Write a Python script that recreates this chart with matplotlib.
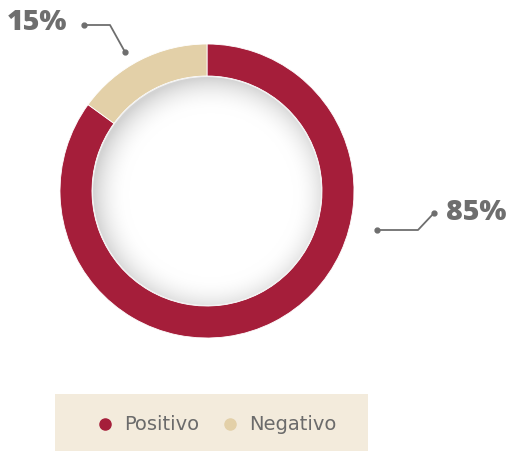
import numpy as np
import matplotlib.pyplot as plt
from matplotlib.patches import Circle, Rectangle

# datos
categorias = ['Positivo', 'Negativo']
valores = [85, 15]
colores = ['#A51E3A', '#E3D0A8']
etiquetas = ['85%', '15%']

W, H = 512, 451
fig = plt.figure(figsize=(W / 100, H / 100), dpi=100)
ax = fig.add_axes([0, 0, 1, 1])

cx, cy, R, ancho = 207, H - 191, 147, 32

wedges, _ = ax.pie(valores, colors=colores, startangle=90, counterclock=False,
                   radius=R, center=(cx, cy), frame=True,
                   wedgeprops=dict(width=ancho, linewidth=0.6, edgecolor='white'))
ax.set_xlim(0, W)
ax.set_ylim(0, H)
ax.set_aspect('equal')
ax.axis('off')

# circulo interior con sombra suave
r_in = R - ancho
n = 400
xs = np.linspace(cx - r_in, cx + r_in, n)
ys = np.linspace(cy - r_in, cy + r_in, n)
X, Y = np.meshgrid(xs, ys)
d = np.sqrt((X - cx - 4) ** 2 + (Y - cy + 4) ** 2) / r_in
t = np.clip((d - 0.72) / 0.3, 0, 1)
val = 1 - 0.17 * t ** 2
img = np.dstack([val, val, val])
im = ax.imshow(img, extent=(cx - r_in, cx + r_in, cy - r_in, cy + r_in),
               origin='lower', zorder=3, interpolation='bilinear')
clip = Circle((cx, cy), r_in - 0.5, transform=ax.transData)
im.set_clip_path(clip)
ax.add_patch(Circle((cx, cy), r_in - 0.5, fill=False, edgecolor='#f2f2f2',
                    linewidth=0.8, zorder=4))

# etiquetas con lineas guia
gris = '#6e6e6e'
guias = [
    [(377, 230), (418, 230), (434, 213)],
    [(125, 52), (110, 25), (84, 25)],
]
pos_txt = [(446, 212, 'left'), (67, 23, 'right')]
for etq, pts, (tx, ty, ha) in zip(etiquetas, guias, pos_txt):
    px = [p[0] for p in pts]
    py = [H - p[1] for p in pts]
    ax.plot(px, py, color=gris, linewidth=1.3, zorder=5)
    ax.plot([px[0], px[-1]], [py[0], py[-1]], 'o', color=gris, markersize=3.5, zorder=5)
    ax.text(tx, H - ty, etq, fontsize=20.5, fontweight=800, color=gris,
            family='Open Sans', ha=ha, va='center')

# leyenda
ax.add_patch(Rectangle((55, 0), 313, H - 394, facecolor='#F3EBDC',
                       edgecolor='none', zorder=1))
ley_x = [105, 230]
for cat, col, lx in zip(categorias, colores, ley_x):
    ax.plot(lx, H - 424, 'o', color=col, markersize=8, zorder=2)
    ax.text(lx + 19, H - 424, cat, fontsize=14, color='#6b6b6b',
            family='DejaVu Sans', va='center', ha='left', zorder=2)

fig.savefig('out.png', dpi=100)
